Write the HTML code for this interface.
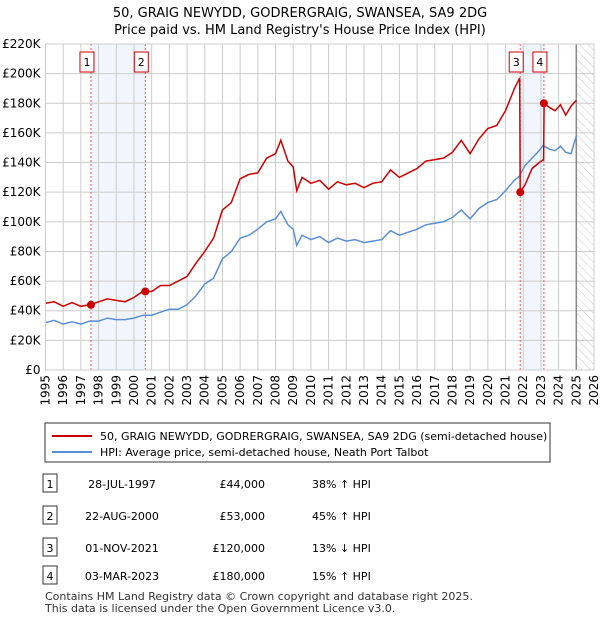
<!DOCTYPE html>
<html><head><meta charset="utf-8"><style>
body{margin:0;background:#fff;font-family:"Liberation Sans","DejaVu Sans",sans-serif;}
svg text{font-family:"DejaVu Sans","Liberation Sans",sans-serif;}
</style></head><body>
<svg id="c" width="600" height="620" xmlns="http://www.w3.org/2000/svg">
<defs><pattern id="hatch" width="6" height="6" patternUnits="userSpaceOnUse" patternTransform="rotate(-45)"><line x1="0" y1="0" x2="0" y2="6" stroke="#ccc" stroke-width="1"/></pattern></defs>
<text x="300" y="17" text-anchor="middle" font-size="13">50, GRAIG NEWYDD, GODRERGRAIG, SWANSEA, SA9 2DG</text>
<text x="300" y="34" text-anchor="middle" font-size="13">Price paid vs. HM Land Registry's House Price Index (HPI)</text>
<g id="plot"></g>
<g>
<rect x="45" y="423" width="505" height="39" fill="#fff" stroke="#333" stroke-width="1"/>
<line x1="52" y1="436" x2="92" y2="436" stroke="#cc0000" stroke-width="2"/>
<text x="100" y="440" font-size="11">50, GRAIG NEWYDD, GODRERGRAIG, SWANSEA, SA9 2DG (semi-detached house)</text>
<line x1="52" y1="452" x2="92" y2="452" stroke="#5b8fd4" stroke-width="2"/>
<text x="100" y="456" font-size="11">HPI: Average price, semi-detached house, Neath Port Talbot</text>
</g>
<g id="table"></g>
<text x="45" y="600" font-size="11" fill="#333">Contains HM Land Registry data © Crown copyright and database right 2025.</text>
<text x="45" y="612" font-size="11" fill="#333">This data is licensed under the Open Government Licence v3.0.</text>
</svg>
<script>
const yTicks=[0,20,40,60,80,100,120,140,160,180,200,220];
const yTickLabels=["£0","£20K","£40K","£60K","£80K","£100K","£120K","£140K","£160K","£180K","£200K","£220K"];
const xYears=[1995,1996,1997,1998,1999,2000,2001,2002,2003,2004,2005,2006,2007,2008,2009,2010,2011,2012,2013,2014,2015,2016,2017,2018,2019,2020,2021,2022,2023,2024,2025,2026];
const dates=[1995,1995.5,1996,1996.5,1997,1997.5,1998,1998.5,1999,1999.5,2000,2000.5,2001,2001.5,2002,2002.5,2003,2003.5,2004,2004.5,2005,2005.5,2006,2006.5,2007,2007.5,2008,2008.3,2008.7,2009,2009.2,2009.5,2010,2010.5,2011,2011.5,2012,2012.5,2013,2013.5,2014,2014.5,2015,2015.5,2016,2016.5,2017,2017.5,2018,2018.5,2019,2019.5,2020,2020.5,2021,2021.5,2021.8,2021.83,2022.1,2022.5,2022.9,2023.15,2023.18,2023.5,2023.8,2024.1,2024.4,2024.7,2025];
const hpiValues=[32,33.5,31,32.5,31,33,33,35,34,34,35,37,37,39,41,41,44,50,58,62,75,80,89,91,95,100,102,107,98,95,84,91,88,90,86,89,87,88,86,87,88,94,91,93,95,98,99,100,103,108,102,109,113,115,121,128,131,132,138,143,148,152,151,149,148,151,147,146,158];
const priceValues=[45,46,43,45.5,43,44,46,48,47,46,49,53,53,57,57,60,63,72,80,89,108,113,129,132,133,143,146,155,141,137,121,130,126,128,122,127,125,126,123,126,127,135,130,133,136,141,142,143,147,155,146,156,163,165,175,190,197,120,125,136,140,142,180,177,175,179,172,178,182];
const saleDates=[1997.57,2000.64,2021.83,2023.17];
const salePrices=[44,53,120,180];
const saleLabels=["1","2","3","4"];
const saleDateText=["28-JUL-1997","22-AUG-2000","01-NOV-2021","03-MAR-2023"];
const salePriceText=["£44,000","£53,000","£120,000","£180,000"];
const saleHpiText=["38% ↑ HPI","45% ↑ HPI","13% ↓ HPI","15% ↑ HPI"];

const X0=45.5,X1=594,Y0=370,Y1=44;
const xs=t=>X0+(t-1995)/(2026-1995)*(X1-X0);
const ys=v=>Y0-v/220*(Y0-Y1);
const NS="http://www.w3.org/2000/svg";
const plot=document.getElementById('plot');
function mk(tag,attrs,parent){const e=document.createElementNS(NS,tag);for(const k in attrs)e.setAttribute(k,attrs[k]);(parent||plot).appendChild(e);return e;}

let s=mk('rect',{x:xs(saleDates[0]),y:Y1,width:xs(saleDates[1])-xs(saleDates[0]),height:Y0-Y1,fill:'#f1f5fd'});


s=mk('rect',{x:xs(saleDates[2]),y:Y1,width:xs(saleDates[3])-xs(saleDates[2]),height:Y0-Y1,fill:'#f1f5fd'});


s=mk('rect',{x:xs(2025),y:Y1,width:xs(2026)-xs(2025),height:Y0-Y1,fill:'url(#hatch)'});



yTicks.forEach((v,i)=>{
 const l=mk('line',{x1:X0,x2:X1,y1:ys(v),y2:ys(v),stroke:'#cccccc','stroke-width':1});
 
 
 const t=mk('text',{x:X0-5,y:ys(v)+4,'text-anchor':'end','font-size':12});
 t.textContent=yTickLabels[i];
 
 
});
xYears.forEach(y=>{
 const l=mk('line',{x1:xs(y),x2:xs(y),y1:Y1,y2:Y0,stroke:'#cccccc','stroke-width':1});
 
 
 const t=mk('text',{x:0,y:0,'text-anchor':'end','font-size':12,transform:`translate(${xs(y)+4},${Y0+5}) rotate(-90)`});
 t.textContent=y;
 
 
});
let ln=mk('line',{x1:xs(2025),x2:xs(2025),y1:Y1,y2:Y0,stroke:'#888','stroke-width':1.5});



saleDates.forEach((d,i)=>{
 const l=mk('line',{x1:xs(d),x2:xs(d),y1:Y1,y2:Y0,stroke:'#ee5555','stroke-width':1,'stroke-dasharray':'2,2'});
 
 
});

const path=vals=>vals.map((v,i)=>(i?'L':'M')+xs(dates[i]).toFixed(1)+','+ys(v).toFixed(1)).join('');
let p=mk('path',{d:path(hpiValues),fill:'none',stroke:'#5b8fd4','stroke-width':1.5});


p=mk('path',{d:path(priceValues),fill:'none',stroke:'#cc0000','stroke-width':1.5});



saleDates.forEach((d,i)=>{
 const c=mk('circle',{cx:xs(d),cy:ys(salePrices[i]),r:4,fill:'#cc0000'});
 
 
 const r=mk('rect',{x:xs(d)-11,y:52,width:14,height:20,fill:'#fff',stroke:'#cc0000','stroke-width':1});
 
 
 const t=mk('text',{x:xs(d)-4,y:66,'text-anchor':'middle','font-size':11});
 t.textContent=saleLabels[i];
 
 
});
let ax=mk('rect',{x:X0,y:Y1,width:X1-X0,height:Y0-Y1,fill:'none',stroke:'#cccccc'});



const tbl=document.getElementById('table');
const rowY=[484,516,548,576];
saleLabels.forEach((lab,i)=>{
 const y=rowY[i];
 const r=mk('rect',{x:43,y:y-10,width:14,height:18,fill:'#fff',stroke:'#333'},tbl);
 
 
 const cells=[[50,lab,'middle'],[122,saleDateText[i],'middle'],[265,salePriceText[i],'end'],[312,saleHpiText[i],'start']];
 cells.forEach(c=>{
  const t=mk('text',{x:c[0],y:y+4,'text-anchor':c[2],'font-size':11},tbl);
  t.textContent=c[1];
  
  
 });
});
</script>
</body></html>
